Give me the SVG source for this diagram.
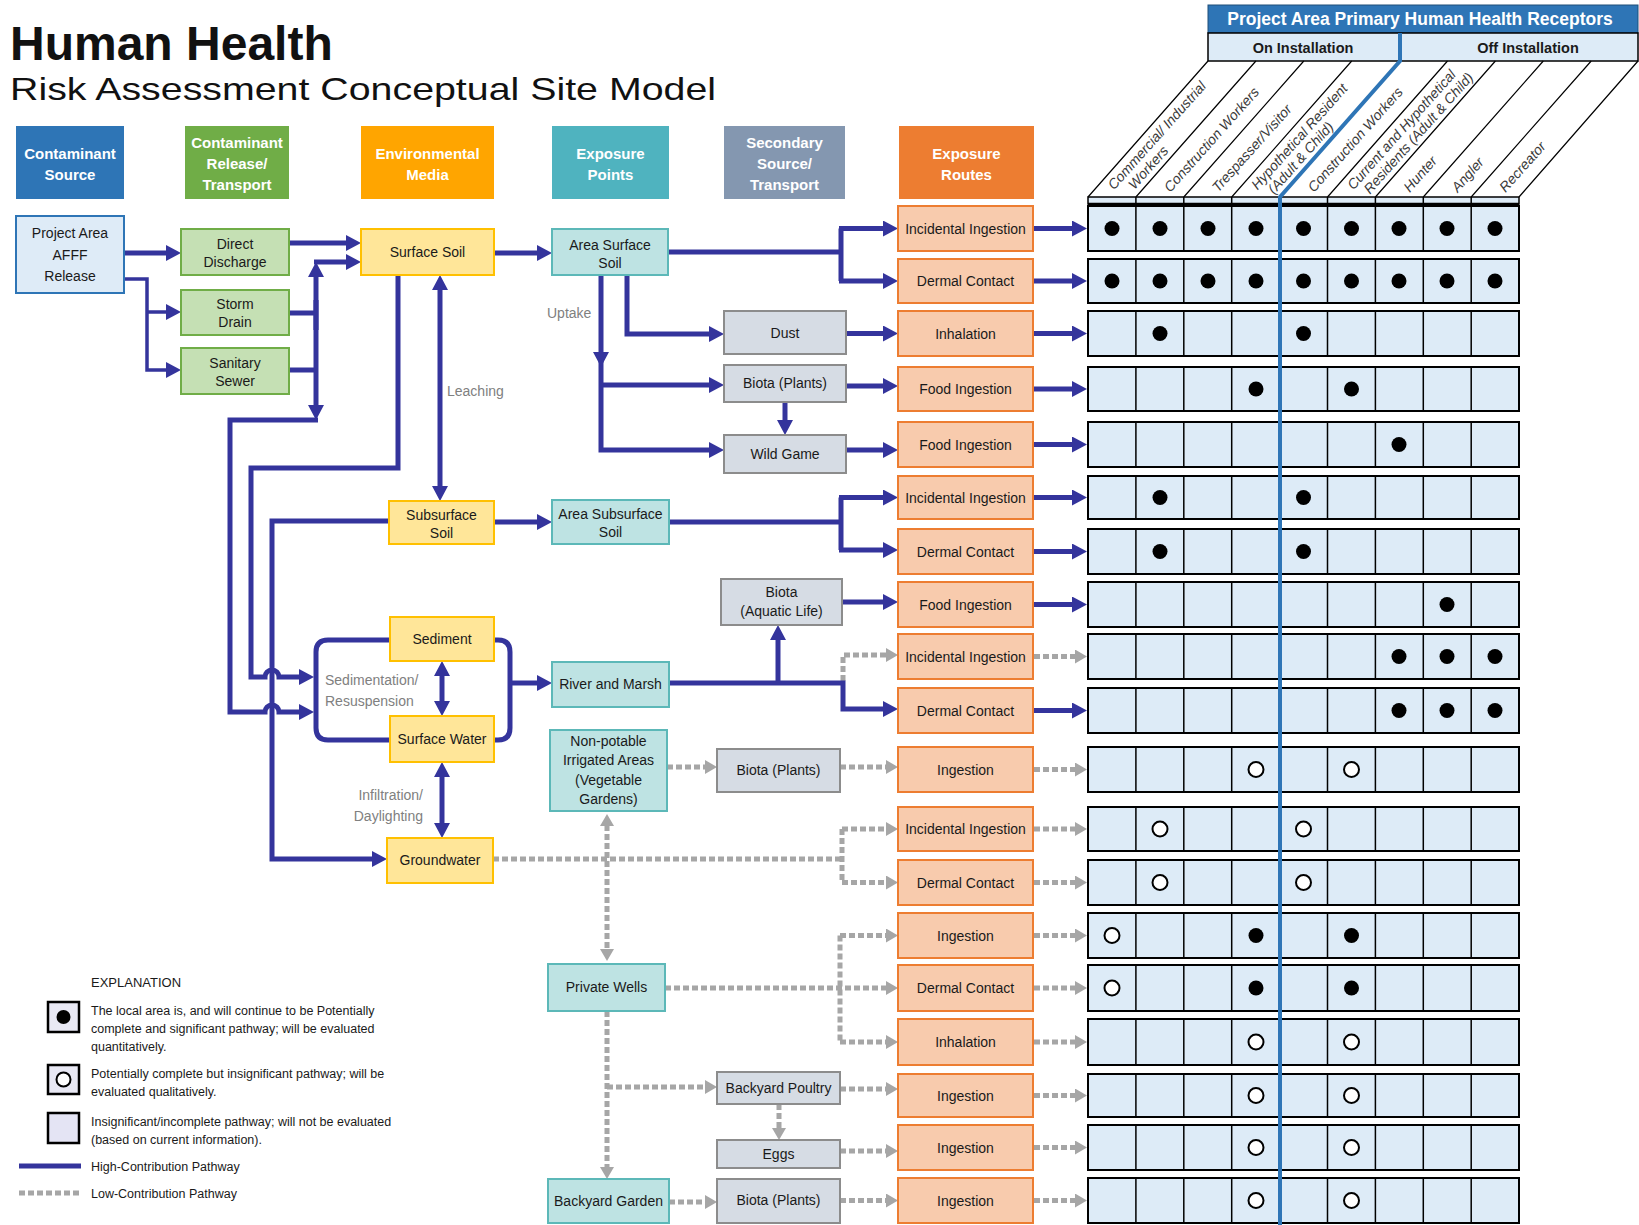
<svg xmlns="http://www.w3.org/2000/svg" width="1639" height="1225" viewBox="0 0 1639 1225">
<defs>
<style>
text{font-family:"Liberation Sans",Arial,sans-serif}
.h{fill:#fff;font-weight:bold;font-size:15px;text-anchor:middle}
.n{fill:#1a1a1a;font-size:14px;text-anchor:middle}
.g{fill:#808080;font-size:14px}
.lab{fill:#3a3a3a;font-size:14px;font-style:italic}
.lg{fill:#1a1a1a;font-size:12.5px}
.hi{fill:none;stroke:#34349C;stroke-width:5}
.thin{fill:none;stroke:#34349C;stroke-width:3.5}
.lo{fill:none;stroke:#A6A6A6;stroke-width:5;stroke-dasharray:6 3}
.ha{marker-end:url(#ah)}
.la{marker-end:url(#ag)}
.src{fill:#DEEBF7;stroke:#2E75B6;stroke-width:2}
.rel{fill:#C5E0B4;stroke:#70AD47;stroke-width:2}
.env{fill:#FFE699;stroke:#FFC000;stroke-width:2}
.exp{fill:#BEE3E3;stroke:#5CB8B8;stroke-width:2}
.sec{fill:#D6DCE4;stroke:#8C8C8C;stroke-width:2}
.rt{fill:#F8CBAD;stroke:#ED7D31;stroke-width:2}
.row{fill:#DDEBF7;stroke:#000;stroke-width:2}
.div{fill:none;stroke:#000;stroke-width:1.5}
.diag{fill:none;stroke:#000;stroke-width:1.2}
.fd{fill:#000}
.od{fill:#fff;stroke:#000;stroke-width:2}
</style>
<marker id="ah" markerUnits="userSpaceOnUse" markerWidth="15" markerHeight="16" viewBox="0 0 15 16" refX="1" refY="8" orient="auto-start-reverse"><path d="M0,0 L15,8 L0,16 z" fill="#34349C"/></marker>
<marker id="ag" markerUnits="userSpaceOnUse" markerWidth="12" markerHeight="14" viewBox="0 0 12 14" refX="1" refY="7" orient="auto-start-reverse"><path d="M0,0 L12,7 L0,14 z" fill="#A6A6A6"/></marker>
</defs>
<rect width="1639" height="1225" fill="#fff"/>

<g id="title">
<text x="10" y="60" font-size="48" font-weight="bold" fill="#111">Human Health</text>
<text x="10" y="100" font-size="32" fill="#111" textLength="706" lengthAdjust="spacingAndGlyphs">Risk Assessment Conceptual Site Model</text>
</g>

<g id="headers">
<g id="hdr-source"><rect x="16" y="126" width="108" height="73" fill="#2E75B6"/><text class="h" x="70" y="159">Contaminant</text><text class="h" x="70" y="180">Source</text></g>
<g id="hdr-release"><rect x="185" y="126" width="104" height="73" fill="#70AD47"/><text class="h" x="237" y="148">Contaminant</text><text class="h" x="237" y="169">Release/</text><text class="h" x="237" y="190">Transport</text></g>
<g id="hdr-media"><rect x="361" y="126" width="133" height="73" fill="#FFA500"/><text class="h" x="427.5" y="159">Environmental</text><text class="h" x="427.5" y="180">Media</text></g>
<g id="hdr-points"><rect x="552" y="126" width="117" height="73" fill="#4FB3BF"/><text class="h" x="610.5" y="159">Exposure</text><text class="h" x="610.5" y="180">Points</text></g>
<g id="hdr-secondary"><rect x="724" y="126" width="121" height="73" fill="#8497B0"/><text class="h" x="784.5" y="148">Secondary</text><text class="h" x="784.5" y="169">Source/</text><text class="h" x="784.5" y="190">Transport</text></g>
<g id="hdr-routes"><rect x="899" y="126" width="135" height="73" fill="#ED7D31"/><text class="h" x="966.5" y="159">Exposure</text><text class="h" x="966.5" y="180">Routes</text></g>
</g>

<g id="connectors">
<path class="hi ha" d="M124,253 H167"/>
<path class="thin ha" d="M124,279 H147 V370 H167"/>
<path class="thin ha" d="M147,312 H167"/>
<path class="hi ha" d="M289,243 H347"/>
<path class="hi" d="M289,313 H318 M289,370 H318"/>
<path class="hi ha" d="M316,330 V276"/>
<path class="hi ha" d="M316,300 V406"/>
<path class="hi ha" d="M314,262 H347"/>
<path class="hi ha" d="M318,420 H230 V712 H265 A7,7 0 0 1 279,712 H300"/>
<path class="hi ha" d="M398,275 V468 H251 V677 H265 A7,7 0 0 1 279,677 H300"/>
<path class="hi ha" d="M389,521 H272 V859 H373"/>
<path class="hi" d="M390,640 H328 Q316,640 316,652 V728 Q316,740 328,740 H390"/>
<path class="hi" d="M494,640 H498 Q510,640 510,652 V728 Q510,740 498,740 H494"/>
<path class="hi ha" d="M510,683 H538"/>
<path class="hi" d="M440,289 V487" marker-start="url(#ah)" marker-end="url(#ah)"/>
<path class="hi" d="M442,675 V702" marker-start="url(#ah)" marker-end="url(#ah)"/>
<path class="hi" d="M442,776 V824" marker-start="url(#ah)" marker-end="url(#ah)"/>
<path class="hi ha" d="M494,253 H538"/>
<path class="hi ha" d="M494,522 H538"/>
<path class="hi" d="M668,252 H841 M841,228.5 V281"/>
<path class="hi ha" d="M839,228.5 H884"/>
<path class="hi ha" d="M839,281 H884"/>
<path class="hi ha" d="M627,275 V334 H710"/>
<path class="hi ha" d="M601,275 V450 H710"/>
<path class="hi ha" d="M601,385 H710"/>
<polygon points="593,352 609,352 601,367" fill="#34349C"/>
<path class="hi ha" d="M785,402 V421"/>
<path class="hi ha" d="M846,333.5 H884"/>
<path class="hi ha" d="M846,386 H884"/>
<path class="hi ha" d="M846,450 H884"/>
<path class="hi" d="M669,522 H841 M841,497.5 V550"/>
<path class="hi ha" d="M839,497.5 H884"/>
<path class="hi ha" d="M839,550 H884"/>
<path class="hi ha" d="M842,602 H884"/>
<path class="lo la" d="M843,681 V655 H887"/>
<path class="hi ha" d="M669,683 H843 V709 H884"/>
<path class="hi ha" d="M778,683 V639"/>
<path class="lo la" d="M667,767 H706"/>
<path class="lo la" d="M840,767 H887"/>
<path class="lo" d="M493,859 H842 M842,829 V882.5"/>
<path class="lo la" d="M842,829 H887"/>
<path class="lo la" d="M842,882.5 H887"/>
<path class="lo" d="M607,825 V950" marker-start="url(#ag)" marker-end="url(#ag)"/>
<path class="lo la" d="M665,988 H887"/>
<path class="lo" d="M840,935.5 V1042"/>
<path class="lo la" d="M840,935.5 H887"/>
<path class="lo la" d="M840,1042 H887"/>
<path class="lo la" d="M607,1011 V1168"/>
<path class="lo la" d="M607,1087 H706"/>
<path class="lo la" d="M779,1104 V1129"/>
<path class="lo la" d="M840,1089 H887"/>
<path class="lo la" d="M840,1151 H887"/>
<path class="lo la" d="M669,1202 H706"/>
<path class="lo la" d="M840,1200.5 H887"/>
<path class="hi ha" d="M1034,228.5 H1073"/>
<path class="hi ha" d="M1034,281 H1073"/>
<path class="hi ha" d="M1034,333.5 H1073"/>
<path class="hi ha" d="M1034,389 H1073"/>
<path class="hi ha" d="M1034,444.5 H1073"/>
<path class="hi ha" d="M1034,497.5 H1073"/>
<path class="hi ha" d="M1034,551.5 H1073"/>
<path class="hi ha" d="M1034,604.5 H1073"/>
<path class="lo la" d="M1034,656.5 H1076"/>
<path class="hi ha" d="M1034,710.5 H1073"/>
<path class="lo la" d="M1034,769.5 H1076"/>
<path class="lo la" d="M1034,829 H1076"/>
<path class="lo la" d="M1034,882.5 H1076"/>
<path class="lo la" d="M1034,935.5 H1076"/>
<path class="lo la" d="M1034,988 H1076"/>
<path class="lo la" d="M1034,1042 H1076"/>
<path class="lo la" d="M1034,1095.5 H1076"/>
<path class="lo la" d="M1034,1147.5 H1076"/>
<path class="lo la" d="M1034,1200.5 H1076"/>
</g>

<g id="flow-labels">
<text class="g" x="447" y="396">Leaching</text>
<text class="g" x="547" y="318">Uptake</text>
<text class="g" x="325" y="685">Sedimentation/</text>
<text class="g" x="325" y="706">Resuspension</text>
<text class="g" x="423" y="800" text-anchor="end">Infiltration/</text>
<text class="g" x="423" y="821" text-anchor="end">Daylighting</text>
</g>

<g id="node-source"><rect class="src" x="16" y="216" width="108" height="77"/><text class="n" x="70" y="238">Project Area</text><text class="n" x="70" y="260">AFFF</text><text class="n" x="70" y="281">Release</text></g>
<g id="node-direct"><rect class="rel" x="181" y="229" width="108" height="46"/><text class="n" x="235" y="249">Direct</text><text class="n" x="235" y="267">Discharge</text></g>
<g id="node-storm"><rect class="rel" x="181" y="290" width="108" height="45"/><text class="n" x="235" y="309">Storm</text><text class="n" x="235" y="327">Drain</text></g>
<g id="node-sewer"><rect class="rel" x="181" y="348" width="108" height="46"/><text class="n" x="235" y="368">Sanitary</text><text class="n" x="235" y="386">Sewer</text></g>
<g id="node-surface-soil"><rect class="env" x="361" y="229" width="133" height="46"/><text class="n" x="427.5" y="257">Surface Soil</text></g>
<g id="node-subsurface-soil"><rect class="env" x="389" y="501" width="105" height="43"/><text class="n" x="441.5" y="520">Subsurface</text><text class="n" x="441.5" y="538">Soil</text></g>
<g id="node-sediment"><rect class="env" x="390" y="617" width="104" height="44"/><text class="n" x="442" y="644">Sediment</text></g>
<g id="node-surface-water"><rect class="env" x="390" y="716" width="104" height="46"/><text class="n" x="442" y="744">Surface Water</text></g>
<g id="node-groundwater"><rect class="env" x="387" y="838" width="106" height="45"/><text class="n" x="440" y="865">Groundwater</text></g>
<g id="node-area-surface"><rect class="exp" x="552" y="229" width="116" height="46"/><text class="n" x="610" y="250">Area Surface</text><text class="n" x="610" y="268">Soil</text></g>
<g id="node-area-subsurface"><rect class="exp" x="552" y="500" width="117" height="44"/><text class="n" x="610.5" y="519">Area Subsurface</text><text class="n" x="610.5" y="537">Soil</text></g>
<g id="node-river"><rect class="exp" x="552" y="662" width="117" height="45"/><text class="n" x="610.5" y="689">River and Marsh</text></g>
<g id="node-nonpotable"><rect class="exp" x="550" y="730" width="117" height="81"/><text class="n" x="608.5" y="746">Non-potable</text><text class="n" x="608.5" y="765">Irrigated Areas</text><text class="n" x="608.5" y="785">(Vegetable</text><text class="n" x="608.5" y="804">Gardens)</text></g>
<g id="node-wells"><rect class="exp" x="548" y="964" width="117" height="47"/><text class="n" x="606.5" y="992">Private Wells</text></g>
<g id="node-garden"><rect class="exp" x="548" y="1179" width="121" height="44"/><text class="n" x="608.5" y="1206">Backyard Garden</text></g>
<g id="node-dust"><rect class="sec" x="724" y="311" width="122" height="43"/><text class="n" x="785" y="338">Dust</text></g>
<g id="node-plants1"><rect class="sec" x="724" y="365" width="122" height="37"/><text class="n" x="785" y="388">Biota (Plants)</text></g>
<g id="node-game"><rect class="sec" x="724" y="435" width="122" height="38"/><text class="n" x="785" y="459">Wild Game</text></g>
<g id="node-aquatic"><rect class="sec" x="721" y="579" width="121" height="46"/><text class="n" x="781.5" y="597">Biota</text><text class="n" x="781.5" y="616">(Aquatic Life)</text></g>
<g id="node-plants2"><rect class="sec" x="717" y="749" width="123" height="43"/><text class="n" x="778.5" y="775">Biota (Plants)</text></g>
<g id="node-poultry"><rect class="sec" x="717" y="1072" width="123" height="32"/><text class="n" x="778.5" y="1093">Backyard Poultry</text></g>
<g id="node-eggs"><rect class="sec" x="717" y="1140" width="123" height="28"/><text class="n" x="778.5" y="1159">Eggs</text></g>
<g id="node-plants3"><rect class="sec" x="717" y="1179" width="123" height="44"/><text class="n" x="778.5" y="1205">Biota (Plants)</text></g>

<g id="routes">
<g id="route-1"><rect class="rt" x="898" y="206" width="135" height="45"/><text class="n" x="965.5" y="233.5">Incidental Ingestion</text></g>
<g id="route-2"><rect class="rt" x="898" y="259" width="135" height="44"/><text class="n" x="965.5" y="286">Dermal Contact</text></g>
<g id="route-3"><rect class="rt" x="898" y="311" width="135" height="45"/><text class="n" x="965.5" y="338.5">Inhalation</text></g>
<g id="route-4"><rect class="rt" x="898" y="367" width="135" height="44"/><text class="n" x="965.5" y="394">Food Ingestion</text></g>
<g id="route-5"><rect class="rt" x="898" y="422" width="135" height="45"/><text class="n" x="965.5" y="449.5">Food Ingestion</text></g>
<g id="route-6"><rect class="rt" x="898" y="476" width="135" height="43"/><text class="n" x="965.5" y="502.5">Incidental Ingestion</text></g>
<g id="route-7"><rect class="rt" x="898" y="529" width="135" height="45"/><text class="n" x="965.5" y="556.5">Dermal Contact</text></g>
<g id="route-8"><rect class="rt" x="898" y="582" width="135" height="45"/><text class="n" x="965.5" y="609.5">Food Ingestion</text></g>
<g id="route-9"><rect class="rt" x="898" y="634" width="135" height="45"/><text class="n" x="965.5" y="661.5">Incidental Ingestion</text></g>
<g id="route-10"><rect class="rt" x="898" y="688" width="135" height="45"/><text class="n" x="965.5" y="715.5">Dermal Contact</text></g>
<g id="route-11"><rect class="rt" x="898" y="747" width="135" height="45"/><text class="n" x="965.5" y="774.5">Ingestion</text></g>
<g id="route-12"><rect class="rt" x="898" y="807" width="135" height="44"/><text class="n" x="965.5" y="834">Incidental Ingestion</text></g>
<g id="route-13"><rect class="rt" x="898" y="860" width="135" height="45"/><text class="n" x="965.5" y="887.5">Dermal Contact</text></g>
<g id="route-14"><rect class="rt" x="898" y="913" width="135" height="45"/><text class="n" x="965.5" y="940.5">Ingestion</text></g>
<g id="route-15"><rect class="rt" x="898" y="965" width="135" height="46"/><text class="n" x="965.5" y="993">Dermal Contact</text></g>
<g id="route-16"><rect class="rt" x="898" y="1019" width="135" height="46"/><text class="n" x="965.5" y="1047">Inhalation</text></g>
<g id="route-17"><rect class="rt" x="898" y="1074" width="135" height="43"/><text class="n" x="965.5" y="1100.5">Ingestion</text></g>
<g id="route-18"><rect class="rt" x="898" y="1125" width="135" height="45"/><text class="n" x="965.5" y="1152.5">Ingestion</text></g>
<g id="route-19"><rect class="rt" x="898" y="1178" width="135" height="45"/><text class="n" x="965.5" y="1205.5">Ingestion</text></g>
</g>

<g id="receptor-header">
<rect x="1208" y="5" width="430" height="28" fill="#2E75B6" stroke="#1F4E79" stroke-width="1"/>
<text x="1420" y="25" font-size="17.5" font-weight="bold" fill="#fff" text-anchor="middle">Project Area Primary Human Health Receptors</text>
<rect x="1208" y="33" width="430" height="28" fill="#DDEBF7" stroke="#000" stroke-width="1.5"/>
<text x="1303" y="53" font-size="14.5" font-weight="bold" fill="#1a1a1a" text-anchor="middle">On Installation</text>
<text x="1528" y="53" font-size="14.5" font-weight="bold" fill="#1a1a1a" text-anchor="middle">Off Installation</text>
<path class="diag" d="M1088,197 L1208,61 M1135.9,197 L1255.9,61 M1183.8,197 L1303.8,61 M1231.7,197 L1351.7,61 M1327.5,197 L1447.5,61 M1375.4,197 L1495.4,61 M1423.3,197 L1543.3,61 M1471.2,197 L1591.2,61 M1519,197 L1638,61"/>
<rect x="1088" y="197" width="431" height="7" fill="#DDEBF7" stroke="#000" stroke-width="1.5"/>
<path d="M1088,204 H1519" stroke="#000" stroke-width="2.5"/>
<path class="div" d="M1135.9,197V204M1183.8,197V204M1231.7,197V204M1327.5,197V204M1375.4,197V204M1423.3,197V204M1471.2,197V204"/>
<text class="lab" transform="translate(1114,190.6) rotate(-48.2)">Commercial/ Industrial<tspan x="14" dy="15">Workers</tspan></text>
<text class="lab" transform="translate(1170.3,192.9) rotate(-48.2)">Construction Workers</text>
<text class="lab" transform="translate(1218.2,192.9) rotate(-48.2)">Trespasser/Visitor</text>
<text class="lab" transform="translate(1257.6,190.6) rotate(-48.2)">Hypothetical Resident<tspan x="8" dy="15">(Adult &amp; Child)</tspan></text>
<text class="lab" transform="translate(1313.9,192.9) rotate(-48.2)">Construction Workers</text>
<text class="lab" transform="translate(1353.4,190.6) rotate(-48.2)">Current and Hypothetical<tspan x="8" dy="15">Residents (Adult &amp; Child)</tspan></text>
<text class="lab" transform="translate(1409.8,192.9) rotate(-48.2)">Hunter</text>
<text class="lab" transform="translate(1457.7,192.9) rotate(-48.2)">Angler</text>
<text class="lab" transform="translate(1505.6,192.9) rotate(-48.2)">Recreator</text>
</g>

<g id="receptor-matrix">
<g id="mrow-1"><rect class="row" x="1088" y="206" width="431" height="45"/><path class="div" d="M1135.9,206V251M1183.8,206V251M1231.7,206V251M1327.5,206V251M1375.4,206V251M1423.3,206V251M1471.2,206V251"/></g>
<g id="mrow-2"><rect class="row" x="1088" y="259" width="431" height="44"/><path class="div" d="M1135.9,259V303M1183.8,259V303M1231.7,259V303M1327.5,259V303M1375.4,259V303M1423.3,259V303M1471.2,259V303"/></g>
<g id="mrow-3"><rect class="row" x="1088" y="311" width="431" height="45"/><path class="div" d="M1135.9,311V356M1183.8,311V356M1231.7,311V356M1327.5,311V356M1375.4,311V356M1423.3,311V356M1471.2,311V356"/></g>
<g id="mrow-4"><rect class="row" x="1088" y="367" width="431" height="44"/><path class="div" d="M1135.9,367V411M1183.8,367V411M1231.7,367V411M1327.5,367V411M1375.4,367V411M1423.3,367V411M1471.2,367V411"/></g>
<g id="mrow-5"><rect class="row" x="1088" y="422" width="431" height="45"/><path class="div" d="M1135.9,422V467M1183.8,422V467M1231.7,422V467M1327.5,422V467M1375.4,422V467M1423.3,422V467M1471.2,422V467"/></g>
<g id="mrow-6"><rect class="row" x="1088" y="476" width="431" height="43"/><path class="div" d="M1135.9,476V519M1183.8,476V519M1231.7,476V519M1327.5,476V519M1375.4,476V519M1423.3,476V519M1471.2,476V519"/></g>
<g id="mrow-7"><rect class="row" x="1088" y="529" width="431" height="45"/><path class="div" d="M1135.9,529V574M1183.8,529V574M1231.7,529V574M1327.5,529V574M1375.4,529V574M1423.3,529V574M1471.2,529V574"/></g>
<g id="mrow-8"><rect class="row" x="1088" y="582" width="431" height="45"/><path class="div" d="M1135.9,582V627M1183.8,582V627M1231.7,582V627M1327.5,582V627M1375.4,582V627M1423.3,582V627M1471.2,582V627"/></g>
<g id="mrow-9"><rect class="row" x="1088" y="634" width="431" height="45"/><path class="div" d="M1135.9,634V679M1183.8,634V679M1231.7,634V679M1327.5,634V679M1375.4,634V679M1423.3,634V679M1471.2,634V679"/></g>
<g id="mrow-10"><rect class="row" x="1088" y="688" width="431" height="45"/><path class="div" d="M1135.9,688V733M1183.8,688V733M1231.7,688V733M1327.5,688V733M1375.4,688V733M1423.3,688V733M1471.2,688V733"/></g>
<g id="mrow-11"><rect class="row" x="1088" y="747" width="431" height="45"/><path class="div" d="M1135.9,747V792M1183.8,747V792M1231.7,747V792M1327.5,747V792M1375.4,747V792M1423.3,747V792M1471.2,747V792"/></g>
<g id="mrow-12"><rect class="row" x="1088" y="807" width="431" height="44"/><path class="div" d="M1135.9,807V851M1183.8,807V851M1231.7,807V851M1327.5,807V851M1375.4,807V851M1423.3,807V851M1471.2,807V851"/></g>
<g id="mrow-13"><rect class="row" x="1088" y="860" width="431" height="45"/><path class="div" d="M1135.9,860V905M1183.8,860V905M1231.7,860V905M1327.5,860V905M1375.4,860V905M1423.3,860V905M1471.2,860V905"/></g>
<g id="mrow-14"><rect class="row" x="1088" y="913" width="431" height="45"/><path class="div" d="M1135.9,913V958M1183.8,913V958M1231.7,913V958M1327.5,913V958M1375.4,913V958M1423.3,913V958M1471.2,913V958"/></g>
<g id="mrow-15"><rect class="row" x="1088" y="965" width="431" height="46"/><path class="div" d="M1135.9,965V1011M1183.8,965V1011M1231.7,965V1011M1327.5,965V1011M1375.4,965V1011M1423.3,965V1011M1471.2,965V1011"/></g>
<g id="mrow-16"><rect class="row" x="1088" y="1019" width="431" height="46"/><path class="div" d="M1135.9,1019V1065M1183.8,1019V1065M1231.7,1019V1065M1327.5,1019V1065M1375.4,1019V1065M1423.3,1019V1065M1471.2,1019V1065"/></g>
<g id="mrow-17"><rect class="row" x="1088" y="1074" width="431" height="43"/><path class="div" d="M1135.9,1074V1117M1183.8,1074V1117M1231.7,1074V1117M1327.5,1074V1117M1375.4,1074V1117M1423.3,1074V1117M1471.2,1074V1117"/></g>
<g id="mrow-18"><rect class="row" x="1088" y="1125" width="431" height="45"/><path class="div" d="M1135.9,1125V1170M1183.8,1125V1170M1231.7,1125V1170M1327.5,1125V1170M1375.4,1125V1170M1423.3,1125V1170M1471.2,1125V1170"/></g>
<g id="mrow-19"><rect class="row" x="1088" y="1178" width="431" height="45"/><path class="div" d="M1135.9,1178V1223M1183.8,1178V1223M1231.7,1178V1223M1327.5,1178V1223M1375.4,1178V1223M1423.3,1178V1223M1471.2,1178V1223"/></g>
<path d="M1280,1225 V197 L1400,61 V33" fill="none" stroke="#2E75B6" stroke-width="4"/>
</g>

<g id="dots">
<circle class="fd" cx="1112" cy="228.5" r="7.5"/><circle class="fd" cx="1160" cy="228.5" r="7.5"/><circle class="fd" cx="1208" cy="228.5" r="7.5"/><circle class="fd" cx="1256" cy="228.5" r="7.5"/><circle class="fd" cx="1303.5" cy="228.5" r="7.5"/><circle class="fd" cx="1351.5" cy="228.5" r="7.5"/><circle class="fd" cx="1399" cy="228.5" r="7.5"/><circle class="fd" cx="1447" cy="228.5" r="7.5"/><circle class="fd" cx="1495" cy="228.5" r="7.5"/>
<circle class="fd" cx="1112" cy="281" r="7.5"/><circle class="fd" cx="1160" cy="281" r="7.5"/><circle class="fd" cx="1208" cy="281" r="7.5"/><circle class="fd" cx="1256" cy="281" r="7.5"/><circle class="fd" cx="1303.5" cy="281" r="7.5"/><circle class="fd" cx="1351.5" cy="281" r="7.5"/><circle class="fd" cx="1399" cy="281" r="7.5"/><circle class="fd" cx="1447" cy="281" r="7.5"/><circle class="fd" cx="1495" cy="281" r="7.5"/>
<circle class="fd" cx="1160" cy="333.5" r="7.5"/><circle class="fd" cx="1303.5" cy="333.5" r="7.5"/>
<circle class="fd" cx="1256" cy="389" r="7.5"/><circle class="fd" cx="1351.5" cy="389" r="7.5"/>
<circle class="fd" cx="1399" cy="444.5" r="7.5"/>
<circle class="fd" cx="1160" cy="497.5" r="7.5"/><circle class="fd" cx="1303.5" cy="497.5" r="7.5"/>
<circle class="fd" cx="1160" cy="551.5" r="7.5"/><circle class="fd" cx="1303.5" cy="551.5" r="7.5"/>
<circle class="fd" cx="1447" cy="604.5" r="7.5"/>
<circle class="fd" cx="1399" cy="656.5" r="7.5"/><circle class="fd" cx="1447" cy="656.5" r="7.5"/><circle class="fd" cx="1495" cy="656.5" r="7.5"/>
<circle class="fd" cx="1399" cy="710.5" r="7.5"/><circle class="fd" cx="1447" cy="710.5" r="7.5"/><circle class="fd" cx="1495" cy="710.5" r="7.5"/>
<circle class="od" cx="1256" cy="769.5" r="7.5"/><circle class="od" cx="1351.5" cy="769.5" r="7.5"/>
<circle class="od" cx="1160" cy="829" r="7.5"/><circle class="od" cx="1303.5" cy="829" r="7.5"/>
<circle class="od" cx="1160" cy="882.5" r="7.5"/><circle class="od" cx="1303.5" cy="882.5" r="7.5"/>
<circle class="od" cx="1112" cy="935.5" r="7.5"/><circle class="fd" cx="1256" cy="935.5" r="7.5"/><circle class="fd" cx="1351.5" cy="935.5" r="7.5"/>
<circle class="od" cx="1112" cy="988" r="7.5"/><circle class="fd" cx="1256" cy="988" r="7.5"/><circle class="fd" cx="1351.5" cy="988" r="7.5"/>
<circle class="od" cx="1256" cy="1042" r="7.5"/><circle class="od" cx="1351.5" cy="1042" r="7.5"/>
<circle class="od" cx="1256" cy="1095.5" r="7.5"/><circle class="od" cx="1351.5" cy="1095.5" r="7.5"/>
<circle class="od" cx="1256" cy="1147.5" r="7.5"/><circle class="od" cx="1351.5" cy="1147.5" r="7.5"/>
<circle class="od" cx="1256" cy="1200.5" r="7.5"/><circle class="od" cx="1351.5" cy="1200.5" r="7.5"/>
</g>

<g id="legend">
<text x="91" y="987" font-size="13" fill="#1a1a1a">EXPLANATION</text>
<rect x="48" y="1002" width="31" height="30" fill="#E8E8F4" stroke="#000" stroke-width="2.5"/>
<circle class="fd" cx="63.5" cy="1017" r="7"/>
<text class="lg" x="91" y="1015">The local area is, and will continue to be Potentially</text>
<text class="lg" x="91" y="1033">complete and significant pathway; will be evaluated</text>
<text class="lg" x="91" y="1051">quantitatively.</text>
<rect x="48" y="1065" width="31" height="29" fill="#E8E8F4" stroke="#000" stroke-width="2.5"/>
<circle class="od" cx="63.5" cy="1079.5" r="7"/>
<text class="lg" x="91" y="1078">Potentially complete but insignificant pathway; will be</text>
<text class="lg" x="91" y="1096">evaluated qualitatively.</text>
<rect x="48" y="1113" width="31" height="30" fill="#E4E4F4" stroke="#000" stroke-width="2.5"/>
<text class="lg" x="91" y="1126">Insignificant/incomplete pathway; will not be evaluated</text>
<text class="lg" x="91" y="1144">(based on current information).</text>
<path class="hi" d="M19,1166 H81"/>
<text class="lg" x="91" y="1171">High-Contribution Pathway</text>
<path class="lo" d="M19,1193 H81"/>
<text class="lg" x="91" y="1198">Low-Contribution Pathway</text>
</g>
</svg>
